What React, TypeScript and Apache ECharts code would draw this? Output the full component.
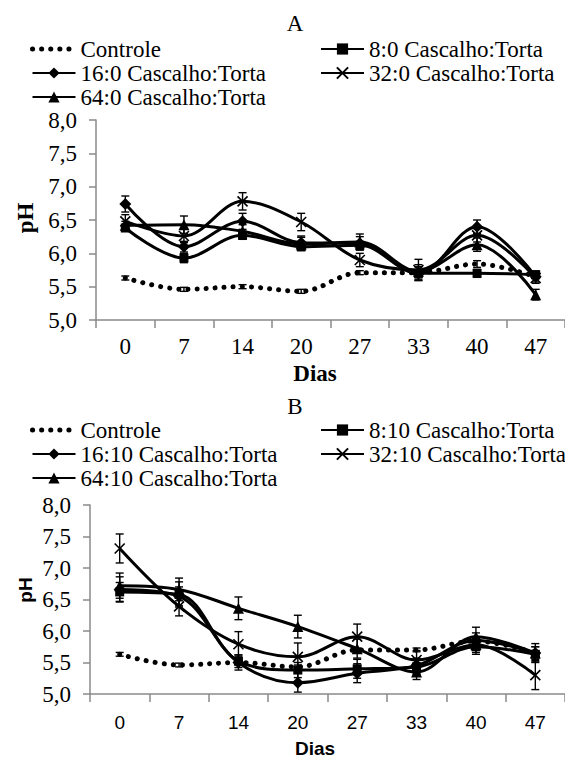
import React, { useEffect, useRef } from "react";
import * as echarts from "echarts";

const days = ["0", "7", "14", "20", "27", "33", "40", "47"];

const namesA = ["Controle", "8:0 Cascalho:Torta", "16:0 Cascalho:Torta", "32:0 Cascalho:Torta", "64:0 Cascalho:Torta"];
const namesB = ["Controle", "8:10 Cascalho:Torta", "16:10 Cascalho:Torta", "32:10 Cascalho:Torta", "64:10 Cascalho:Torta"];

const controleA = [5.63, 5.46, 5.5, 5.43, 5.71, 5.71, 5.84, 5.65];
const sq8A = [6.38, 5.93, 6.27, 6.1, 6.12, 5.7, 5.7, 5.68];
const dia16A = [6.74, 6.1, 6.48, 6.16, 6.15, 5.7, 6.4, 5.65];
const x32A = [6.48, 6.26, 6.78, 6.47, 5.9, 5.75, 6.27, 5.63];
const tri64A = [6.42, 6.43, 6.33, 6.14, 6.17, 5.73, 6.13, 5.38];

const errControleA = [0.03, 0.03, 0.03, 0.03, 0.03, 0.03, 0.05, 0.03];
const errSq8A = [0.05, 0.07, 0.06, 0.05, 0.05, 0.1, 0.06, 0.05];
const errDia16A = [0.12, 0.08, 0.12, 0.1, 0.1, 0.1, 0.1, 0.08];
const errX32A = [0.1, 0.1, 0.13, 0.13, 0.1, 0.16, 0.1, 0.08];
const errTri64A = [0.06, 0.13, 0.1, 0.1, 0.12, 0.1, 0.1, 0.08];

const controleB = [5.63, 5.46, 5.5, 5.43, 5.7, 5.7, 5.84, 5.65];
const sq8B = [6.62, 6.58, 5.52, 5.38, 5.4, 5.43, 5.75, 5.63];
const dia16B = [6.66, 6.55, 5.5, 5.18, 5.33, 5.45, 5.85, 5.65];
const x32B = [7.31, 6.39, 5.79, 5.59, 5.91, 5.54, 5.78, 5.3];
const tri64B = [6.72, 6.66, 6.36, 6.07, 5.72, 5.35, 5.91, 5.65];

const errControleB = [0.03, 0.03, 0.03, 0.03, 0.03, 0.03, 0.05, 0.03];
const errSq8B = [0.15, 0.2, 0.1, 0.12, 0.15, 0.12, 0.12, 0.12];
const errDia16B = [0.2, 0.15, 0.12, 0.15, 0.15, 0.12, 0.12, 0.1];
const errX32B = [0.23, 0.15, 0.2, 0.22, 0.2, 0.15, 0.12, 0.23];
const errTri64B = [0.2, 0.18, 0.18, 0.18, 0.15, 0.12, 0.15, 0.15];

const SERIF = "Liberation Serif";
const SANS = "Liberation Sans";
const AXIS_GRAY = "#8a8a8a";
const FS = 23;

const X_PATH = "path://M0,0L10,10M10,0L0,10";

const markers = [
  { symbol: "none", size: 0 },
  { symbol: "rect", size: 9 },
  { symbol: "diamond", size: 12 },
  { symbol: X_PATH, size: 10 },
  { symbol: "triangle", size: 11 },
];

const dotStyle = { color: "#000", width: 5, type: [0.1, 9], cap: "round" };

function lineSeries(name: string, data: number[], idx: number, k: number) {
  const m = markers[k];
  const isCtrl = k === 0;
  const isX = k === 3;
  return {
    type: "line",
    name,
    xAxisIndex: idx,
    yAxisIndex: idx,
    data,
    smooth: 0.35,
    symbol: m.symbol,
    symbolSize: m.size,
    showSymbol: !isCtrl,
    z: 3,
    lineStyle: isCtrl ? dotStyle : { color: "#000", width: 3 },
    itemStyle: isX
      ? { color: "#fff", borderColor: "#000", borderWidth: 1.6 }
      : { color: "#000" },
  };
}

function errSeries(name: string, data: number[], err: number[], idx: number) {
  return {
    type: "custom",
    name: name + " err",
    xAxisIndex: idx,
    yAxisIndex: idx,
    z: 4,
    data: data.map((v, i) => [i, v - err[i], v + err[i]]),
    encode: { x: 0, y: [1, 2] },
    renderItem: (params: any, api: any) => {
      const i = api.value(0);
      const lo = api.coord([i, api.value(1)]);
      const hi = api.coord([i, api.value(2)]);
      const w = 4;
      const st = { stroke: "#000", lineWidth: 1.4 };
      return {
        type: "group",
        children: [
          { type: "line", shape: { x1: lo[0], y1: lo[1], x2: hi[0], y2: hi[1] }, style: st },
          { type: "line", shape: { x1: lo[0] - w, y1: lo[1], x2: lo[0] + w, y2: lo[1] }, style: st },
          { type: "line", shape: { x1: hi[0] - w, y1: hi[1], x2: hi[0] + w, y2: hi[1] }, style: st },
        ],
      };
    },
  };
}

function legends(names: string[], top: number) {
  const base = {
    orient: "vertical",
    itemWidth: 43,
    itemHeight: 14,
    itemGap: 0,
    padding: 0,
    selectedMode: false,
    textStyle: { fontFamily: SERIF, fontSize: FS, color: "#000", lineHeight: 24 },
  };
  return [
    {
      ...base,
      left: 30,
      top,
      data: [
        { name: names[0], itemStyle: { opacity: 0 }, lineStyle: { width: 5, type: [0.1, 9], cap: "round", color: "#000" } },
        names[2],
        names[4],
      ],
    },
    { ...base, left: 320, top, data: [names[1], names[3]] },
  ];
}

const yLabel = (v: number) => v.toFixed(1).replace(".", ",");

function yAxis(idx: number) {
  return {
    type: "value",
    gridIndex: idx,
    min: 5,
    max: 8,
    interval: 0.5,
    splitLine: { show: false },
    axisLine: { show: true, lineStyle: { color: AXIS_GRAY, width: 1.5 } },
    axisTick: { show: true, length: 7, lineStyle: { color: AXIS_GRAY, width: 1.5 } },
    axisLabel: { formatter: yLabel, fontFamily: SERIF, fontSize: FS, color: "#000", margin: 19 },
  };
}

function xAxis(idx: number, font: string, size: number, margin: number) {
  return {
    type: "category",
    gridIndex: idx,
    data: days,
    boundaryGap: true,
    axisLine: { show: true, lineStyle: { color: AXIS_GRAY, width: 1.5 } },
    axisTick: { show: true, length: 8, lineStyle: { color: AXIS_GRAY, width: 1.5 } },
    axisLabel: { fontFamily: font, fontSize: size, color: "#000", margin },
  };
}

export default function App() {
  const ref = useRef<HTMLDivElement>(null);
  useEffect(() => {
    if (!ref.current) return;
    const chart = echarts.init(ref.current, undefined, { renderer: "svg" });
    const dataA = [controleA, sq8A, dia16A, x32A, tri64A];
    const errA = [errControleA, errSq8A, errDia16A, errX32A, errTri64A];
    const dataB = [controleB, sq8B, dia16B, x32B, tri64B];
    const errB = [errControleB, errSq8B, errDia16B, errX32B, errTri64B];
    const series: any[] = [];
    namesA.forEach((n, k) => {
      series.push(lineSeries(n, dataA[k], 0, k));
      series.push(errSeries(n, dataA[k], errA[k], 0));
    });
    namesB.forEach((n, k) => {
      series.push(lineSeries(n, dataB[k], 1, k));
      series.push(errSeries(n, dataB[k], errB[k], 1));
    });
    chart.setOption({
      animation: false,
      backgroundColor: "#fff",
      grid: [
        { left: 96, top: 120, width: 471, height: 200 },
        { left: 90, top: 505, width: 477, height: 189 },
      ],
      xAxis: [xAxis(0, SERIF, FS, 15), xAxis(1, SANS, 19, 19)],
      yAxis: [yAxis(0), yAxis(1)],
      legend: [...legends(namesA, 37), ...legends(namesB, 418)],
      series,
      graphic: [
        { type: "text", x: 295, y: 23, style: { text: "A", fontFamily: SERIF, fontSize: FS, fill: "#000", align: "center", verticalAlign: "middle" } },
        { type: "text", x: 295, y: 406, style: { text: "B", fontFamily: SERIF, fontSize: FS, fill: "#000", align: "center", verticalAlign: "middle" } },
        { type: "text", x: 315, y: 373, style: { text: "Dias", fontFamily: SERIF, fontWeight: "bold", fontSize: FS, fill: "#000", align: "center", verticalAlign: "middle" } },
        { type: "text", x: 315, y: 748, style: { text: "Dias", fontFamily: SANS, fontWeight: "bold", fontSize: 19, fill: "#000", align: "center", verticalAlign: "middle" } },
        { type: "text", x: 25, y: 218, rotation: Math.PI / 2, style: { text: "pH", fontFamily: SERIF, fontWeight: "bold", fontSize: FS, fill: "#000", align: "center", verticalAlign: "middle" } },
        { type: "text", x: 25, y: 590, rotation: Math.PI / 2, style: { text: "pH", fontFamily: SANS, fontWeight: "bold", fontSize: 19, fill: "#000", align: "center", verticalAlign: "middle" } },
      ],
    });
    return () => chart.dispose();
  }, []);
  return (
    <div
      ref={ref}
      style={{ position: "fixed", left: 0, top: 0, width: 565, height: 758, background: "#fff" }}
    />
  );
}
